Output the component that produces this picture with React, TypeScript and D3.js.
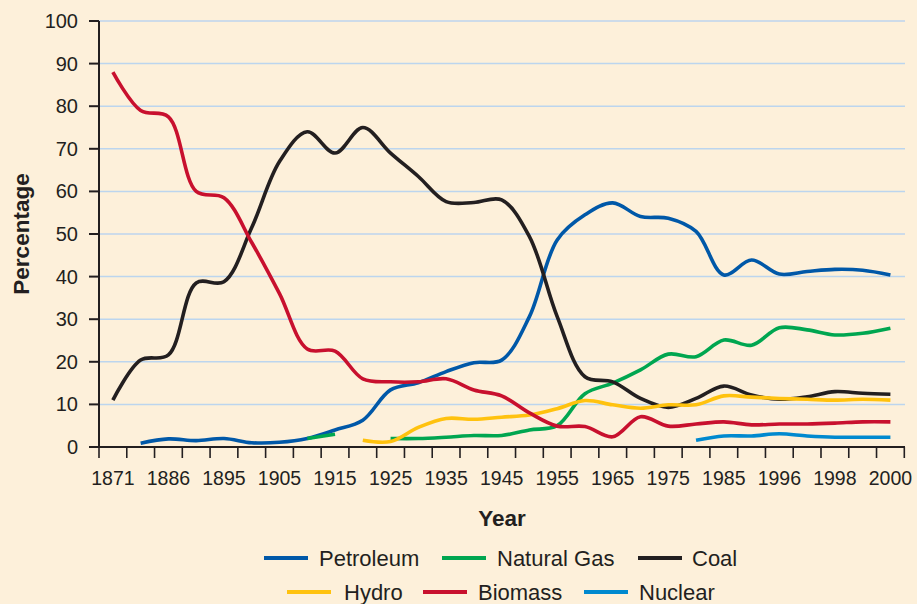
import React from "react";
import * as d3 from "d3";

// Categories (29 bands; only every other one is labelled on the axis)
const categories = [
  "1871", "1878", "1886", "1890", "1895", "1900", "1905", "1910", "1915", "1920",
  "1925", "1930", "1935", "1940", "1945", "1950", "1955", "1960", "1965", "1970",
  "1975", "1980", "1985", "1990", "1996", "1997", "1998", "1999", "2000",
];
const tickLabels = [
  "1871", "1886", "1895", "1905", "1915", "1925", "1935", "1945",
  "1955", "1965", "1975", "1985", "1996", "1998", "2000",
];
const yTicks = [0, 10, 20, 30, 40, 50, 60, 70, 80, 90, 100];

type V = number | null;
const N = null;

const petroleum: V[] = [
  N, 0.9, 1.9, 1.5, 2.0, 1.0, 1.1, 2.0, 4.0, 6.3, 13.4, 15.1, 17.7, 19.8, 20.4,
  30.6, 48.6, 54.5, 57.3, 54.1, 53.7, 50.6, 40.4, 43.9, 40.6, 41.2, 41.7, 41.5, 40.4,
];
const naturalGas: V[] = [
  N, N, N, N, N, N, N, 2.0, 3.0, N, 2.0, 2.0, 2.3, 2.7, 2.7,
  4.0, 5.0, 12.5, 15.0, 18.1, 21.8, 21.2, 25.1, 23.9, 28.0, 27.5, 26.3, 26.7, 27.9,
];
const coal: V[] = [
  11, 20.4, 21.6, 38.5, 38.8, 51.5, 67, 74, 69, 75, 69, 63.5, 57.6, 57.4, 58,
  49.4, 30.6, 16.5, 15.3, 11.4, 9.3, 11.4, 14.3, 12.2, 11.2, 11.8, 13, 12.6, 12.4,
];
const hydro: V[] = [
  N, N, N, N, N, N, N, N, N, 1.6, 1.3, 4.6, 6.7, 6.5, 7.0,
  7.5, 9.0, 10.9, 9.9, 9.1, 9.9, 9.9, 12.0, 11.7, 11.4, 11.2, 11.0, 11.2, 11.0,
];
const biomass: V[] = [
  88, 79, 77.5, 60, 58.5, 48, 36, 23, 22.5, 16, 15.3, 15.3, 16, 13.4, 12,
  8, 4.9, 4.8, 2.4, 7.1, 4.9, 5.4, 5.9, 5.2, 5.4, 5.4, 5.6, 5.9, 5.9,
];
const nuclear: V[] = [
  N, N, N, N, N, N, N, N, N, N, N, N, N, N, N,
  N, N, N, N, N, N, 1.6, 2.6, 2.6, 3.1, 2.6, 2.3, 2.3, 2.3,
];

const seriesNames = ["Petroleum", "Natural Gas", "Coal", "Hydro", "Biomass", "Nuclear"];
const seriesValues = [petroleum, naturalGas, coal, hydro, biomass, nuclear];
const seriesColors = ["#0058a8", "#00a650", "#231f20", "#ffc20e", "#c8102e", "#0089cf"];

const W = 917;
const H = 604;
const BG = "#fdf0da";
const INK = "#231f20";
const FONT = "'Liberation Sans', Arial, Helvetica, sans-serif";

export default function App() {
  const x = d3.scaleBand<string>().domain(categories).range([99, 904.3]).padding(0);
  const y = d3.scaleLinear().domain([0, 100]).range([447, 21]);
  const cx = (c: string) => (x(c) as number) + x.bandwidth() / 2;

  const line = d3
    .line<V>()
    .defined((d) => d !== null)
    .x((_, i) => cx(categories[i]))
    .y((d) => y(d as number))
    .curve(d3.curveCatmullRom.alpha(0.5));

  const boundaries = categories.map((c) => x(c) as number).concat([x.range()[1]]);

  // Legend layout
  const legendRows = [
    [
      { i: 0, lx: 264, tx: 319 },
      { i: 1, lx: 442, tx: 497 },
      { i: 2, lx: 638, tx: 692 },
    ],
    [
      { i: 3, lx: 287, tx: 344 },
      { i: 4, lx: 423, tx: 478 },
      { i: 5, lx: 584, tx: 639 },
    ],
  ];
  const legendY = [558, 592];

  return (
    <svg
      width={W}
      height={H}
      style={{ position: "absolute", left: 0, top: 0, display: "block" }}
      fontFamily={FONT}
    >
      <rect x={0} y={0} width={W} height={H} fill={BG} />

      {/* gridlines */}
      {yTicks
        .filter((t) => t > 0)
        .map((t) => (
          <line
            key={"g" + t}
            x1={99}
            x2={905}
            y1={y(t)}
            y2={y(t)}
            stroke="#bcd5ee"
            strokeWidth={1.5}
          />
        ))}

      {/* y axis */}
      <line x1={99} x2={99} y1={y(100)} y2={y(0)} stroke={INK} strokeWidth={2} />
      {yTicks.map((t) => (
        <g key={"y" + t}>
          <line x1={89} x2={99} y1={y(t)} y2={y(t)} stroke={INK} strokeWidth={2} />
          <text
            x={78}
            y={y(t)}
            dy="0.35em"
            textAnchor="end"
            fontSize={20}
            fill={INK}
          >
            {t}
          </text>
        </g>
      ))}

      {/* x axis */}
      <line x1={89} x2={905} y1={y(0)} y2={y(0)} stroke={INK} strokeWidth={2} />
      {boundaries.map((bx, i) => (
        <line
          key={"xt" + i}
          x1={bx}
          x2={bx}
          y1={y(0)}
          y2={y(0) + 11}
          stroke={INK}
          strokeWidth={1.6}
        />
      ))}
      {tickLabels.map((lab, k) => (
        <text
          key={"xl" + lab}
          x={cx(categories[k * 2])}
          y={485}
          textAnchor="middle"
          fontSize={19.5}
          fill={INK}
        >
          {lab}
        </text>
      ))}

      {/* axis titles */}
      <text x={502} y={526} textAnchor="middle" fontSize={22.5} fontWeight="bold" fill={INK}>
        Year
      </text>
      <text
        transform={`translate(29,${(y(0) + y(100)) / 2}) rotate(-90)`}
        textAnchor="middle"
        fontSize={22.5}
        fontWeight="bold"
        fill={INK}
      >
        Percentage
      </text>

      {/* series */}
      {seriesValues.map((vals, si) => (
        <path
          key={"s" + si}
          d={line(vals) || ""}
          fill="none"
          stroke={seriesColors[si]}
          strokeWidth={3.6}
          strokeLinejoin="round"
        />
      ))}

      {/* legend */}
      {legendRows.map((row, ri) =>
        row.map((it) => (
          <g key={"lg" + it.i}>
            <line
              x1={it.lx}
              x2={it.lx + 44}
              y1={legendY[ri]}
              y2={legendY[ri]}
              stroke={seriesColors[it.i]}
              strokeWidth={4}
            />
            <text
              x={it.tx}
              y={legendY[ri]}
              dy="0.36em"
              fontSize={22}
              fill={INK}
            >
              {seriesNames[it.i]}
            </text>
          </g>
        ))
      )}
    </svg>
  );
}
